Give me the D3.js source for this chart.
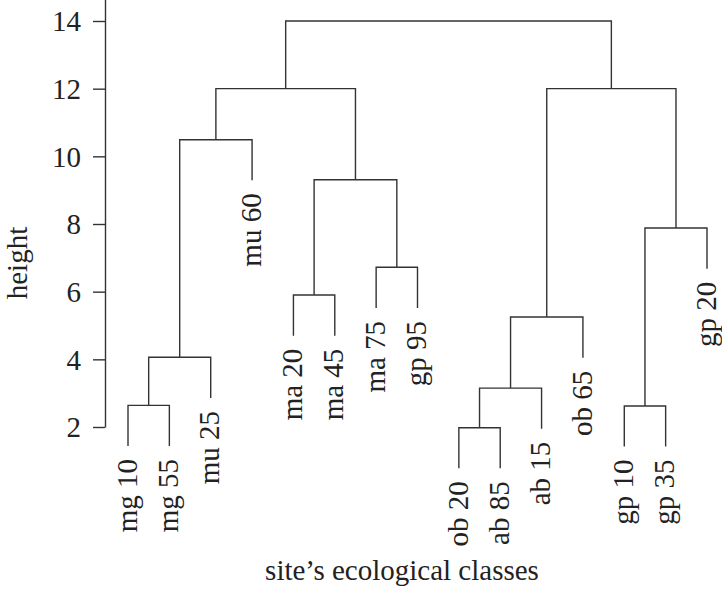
<!DOCTYPE html>
<html>
<head>
<meta charset="utf-8">
<script src="https://cdn.jsdelivr.net/npm/d3@7"></script>
<style>
  body { margin: 0; background: #fff; }
  text { font-family: "Liberation Serif", "Times New Roman", serif; fill: #222; }
</style>
</head>
<body>
<div id="chart"></div>
<script>
// leaves in plotting order
var leaves = ['mg 10', 'mg 55', 'mu 25', 'mu 60', 'ma 20', 'ma 45', 'ma 75', 'gp 95',
              'ob 20', 'ab 85', 'ab 15', 'ob 65', 'gp 10', 'gp 35', 'gp 20'];

// hclust-style merge table: negative = leaf number, positive = earlier merge
var merges = [[-9, -10], [-13, -14], [-1, -2], [1, -11], [3, -3], [4, -12], [-5, -6],
              [-7, -8], [2, -15], [7, 8], [5, -4], [11, 10], [6, 9], [12, 13]];
var heights = [1.98, 2.62, 2.64, 3.15, 4.06, 5.25, 5.90, 6.72, 7.88, 9.31, 10.49, 12.0, 12.0, 14.0];

var yTicks = [2, 4, 6, 8, 10, 12, 14];
var hang = 1.2;

var width = 722, height = 591;

var svg = d3.select('#chart')
    .append('svg')
    .attr('width', width)
    .attr('height', height);

var x = d3.scaleLinear().domain([1, leaves.length]).range([128, 707]);
var y = d3.scaleLinear().domain([2, 14]).range([427, 21]);

// axis line runs off the top of the picture
var yAxisScale = d3.scaleLinear().domain([2, 16]).range([y(2), y(16)]);

var axis = svg.append('g')
    .attr('transform', 'translate(105,0)')
    .call(d3.axisLeft(yAxisScale).tickValues(yTicks).tickSize(12).tickSizeOuter(0).tickPadding(12));
axis.attr('font-family', null).attr('font-size', null);
axis.selectAll('path, line').attr('stroke', '#333').attr('stroke-width', 1.4);
axis.selectAll('text').style('font-size', '29px').attr('fill', '#222').attr('dy', '0.34em');

var pos = [];
var leafEnd = [];

function child(c, h) {
    if (c < 0) {
        leafEnd[-c - 1] = h - hang;
        return {x: x(-c), h: h - hang};
    }
    return pos[c - 1];
}

var tree = svg.append('g');
merges.forEach(function(m, i) {
    var h = heights[i];
    var a = child(m[0], h), b = child(m[1], h);
    pos.push({x: (a.x + b.x) / 2, h: h});
    tree.append('path')
        .attr('d', 'M' + a.x + ',' + y(a.h) + 'V' + y(h) + 'H' + b.x + 'V' + y(b.h))
        .attr('fill', 'none')
        .attr('stroke', '#333')
        .attr('stroke-width', 1.4);
});

svg.append('g').selectAll('text')
    .data(leaves).enter()
    .append('text')
    .attr('transform', function(d, i) {
        return 'translate(' + x(i + 1) + ',' + (y(leafEnd[i]) + 13) + ') rotate(-90)';
    })
    .attr('text-anchor', 'end')
    .attr('dy', '0.3em')
    .style('font-size', '29px')
    .text(function(d) { return d; });

svg.append('text')
    .attr('x', 402)
    .attr('y', 580)
    .attr('text-anchor', 'middle')
    .style('font-size', '29px')
    .text('site\u2019s ecological classes');

svg.append('text')
    .attr('transform', 'translate(27,263) rotate(-90)')
    .attr('text-anchor', 'middle')
    .style('font-size', '29px')
    .text('height');
</script>
</body>
</html>
